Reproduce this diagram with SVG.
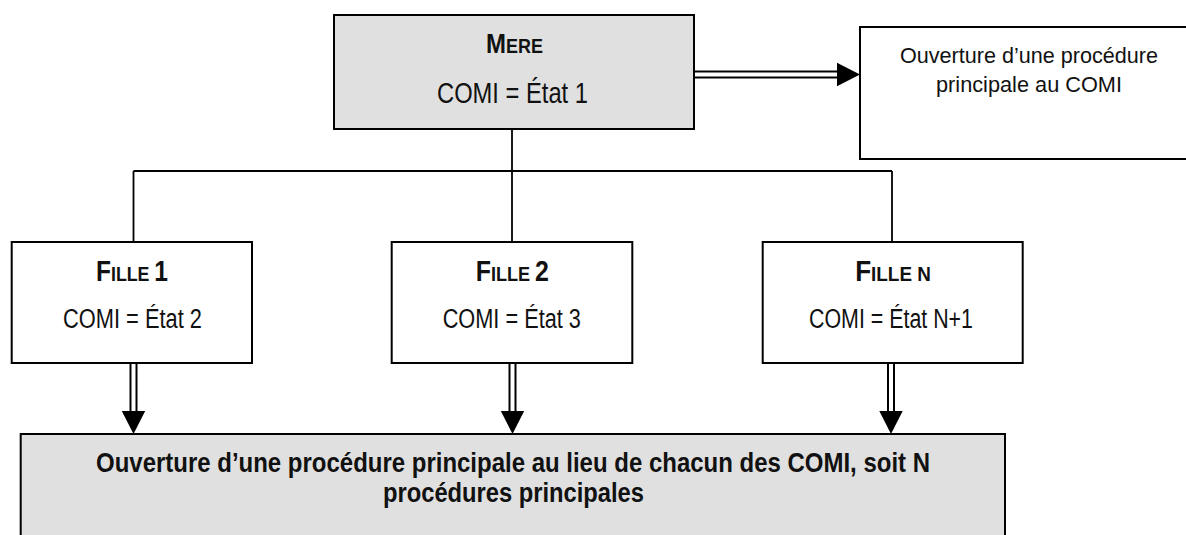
<svg xmlns="http://www.w3.org/2000/svg" width="1186" height="535" viewBox="0 0 1186 535">
  <style>
    .box { stroke: #000; stroke-width: 2; }
    .grey { fill: #e0e0e0; }
    .white { fill: #fff; }
    .line { fill: none; stroke: #000; stroke-width: 1.8; }
    .dbl-out { fill: none; stroke: #000; stroke-width: 8; }
    .dbl-in { fill: none; stroke: #fff; stroke-width: 4; }
    .ah { fill: #000; }
    .cap { font-family: "Liberation Sans", Arial, sans-serif; font-weight: bold; fill: #111; text-anchor: middle; }
    .big { font-size: 29px; }
    .small { font-size: 21px; }
    .narrow { font-family: "Liberation Sans", Arial, sans-serif; fill: #111; text-anchor: middle; }
    .reg { font-family: "Liberation Sans", Arial, sans-serif; font-size: 21.6px; fill: #111; text-anchor: middle; }
    .bold { font-family: "Liberation Sans", Arial, sans-serif; font-size: 27px; font-weight: bold; fill: #111; text-anchor: middle; }
  </style>

  <g id="connectors">
    <!-- tree lines -->
    <path class="line" d="M512,129 V242"/>
    <path class="line" d="M133.5,171 H892"/>
    <path class="line" d="M133.5,171 V242"/>
    <path class="line" d="M892,171 V242"/>
    <!-- mere to right box double arrow -->
    <path class="dbl-out" d="M694,74.5 H838"/>
    <path class="dbl-in" d="M694,74.5 H838"/>
    <polygon class="ah" points="837,62.8 860,74.5 837,86.2"/>
    <!-- fille double arrows -->
    <path class="dbl-out" d="M133.5,363 V412"/>
    <path class="dbl-in" d="M133.5,363 V412"/>
    <polygon class="ah" points="121.8,411 145.2,411 133.5,434"/>
    <path class="dbl-out" d="M512.5,363 V412"/>
    <path class="dbl-in" d="M512.5,363 V412"/>
    <polygon class="ah" points="500.8,411 524.2,411 512.5,434"/>
    <path class="dbl-out" d="M891,363 V412"/>
    <path class="dbl-in" d="M891,363 V412"/>
    <polygon class="ah" points="879.3,411 902.7,411 891,434"/>
  </g>

  <g id="mere">
    <rect class="box grey" x="334" y="15" width="360" height="114"/>
    <text class="cap" transform="translate(514.5,53) scale(0.857,1)" x="0" y="0"><tspan font-size="28">M</tspan><tspan class="small">ERE</tspan></text>
    <text class="narrow" x="512.5" y="103" font-size="29" textLength="151" lengthAdjust="spacingAndGlyphs">COMI = État 1</text>
  </g>

  <g id="procedure-comi">
    <rect class="box white" x="860" y="27" width="340" height="132"/>
    <text class="reg" x="1029" y="63" textLength="258" lengthAdjust="spacingAndGlyphs">Ouverture d’une procédure</text>
    <text class="reg" x="1029" y="92" textLength="186" lengthAdjust="spacingAndGlyphs">principale au COMI</text>
  </g>

  <g id="fille1">
    <rect class="box white" x="11.7" y="242" width="240.3" height="121"/>
    <text class="cap" transform="translate(132,281) scale(0.846,1)" x="0" y="0"><tspan class="big">F</tspan><tspan class="small">ILLE </tspan><tspan class="big">1</tspan></text>
    <text class="narrow" x="132.5" y="328" font-size="27" textLength="139" lengthAdjust="spacingAndGlyphs">COMI = État 2</text>
  </g>

  <g id="fille2">
    <rect class="box white" x="391.7" y="242" width="240.6" height="121"/>
    <text class="cap" transform="translate(512.3,281) scale(0.861,1)" x="0" y="0"><tspan class="big">F</tspan><tspan class="small">ILLE </tspan><tspan class="big">2</tspan></text>
    <text class="narrow" x="511.8" y="328" font-size="27" textLength="138.3" lengthAdjust="spacingAndGlyphs">COMI = État 3</text>
  </g>

  <g id="filleN">
    <rect class="box white" x="762.7" y="242" width="260" height="121"/>
    <text class="cap" transform="translate(893,281) scale(0.899,1)" x="0" y="0"><tspan class="big">F</tspan><tspan class="small">ILLE N</tspan></text>
    <text class="narrow" x="891" y="328" font-size="27" textLength="164" lengthAdjust="spacingAndGlyphs">COMI = État N+1</text>
  </g>

  <g id="procedures-n">
    <rect class="box grey" x="20.7" y="434" width="984.3" height="110"/>
    <text class="bold" x="513" y="472" textLength="834" lengthAdjust="spacingAndGlyphs">Ouverture d’une procédure principale au lieu de chacun des COMI, soit N</text>
    <text class="bold" x="513.5" y="502" textLength="261" lengthAdjust="spacingAndGlyphs">procédures principales</text>
  </g>
</svg>
